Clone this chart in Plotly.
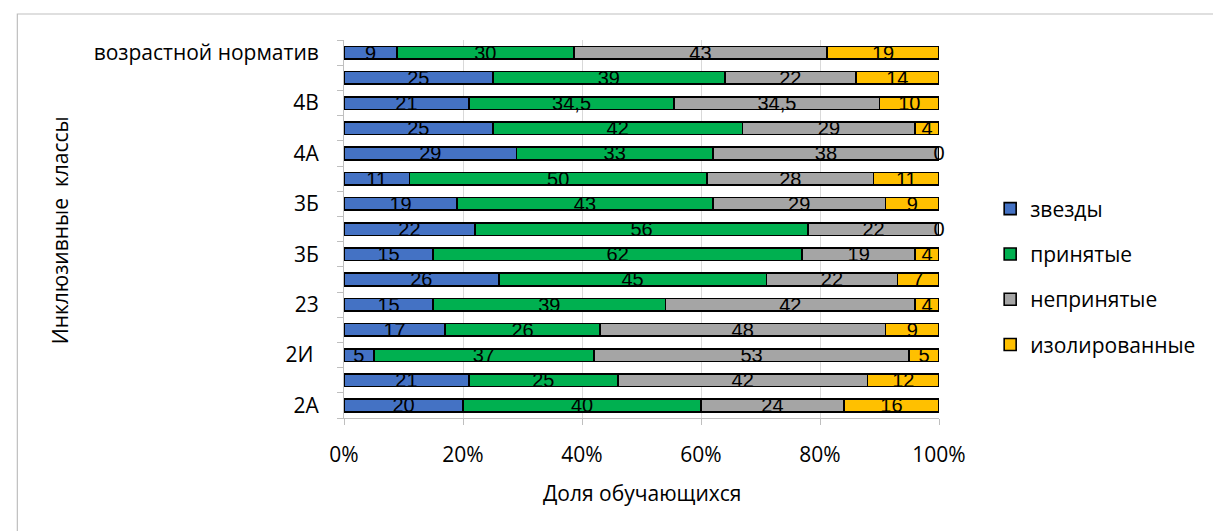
import numpy as np
import plotly.graph_objects as go

categories = ["2А", "", "2И\u00a0", "", "23", "", "3Б", "", "3Б", "", "4А", "", "4В", "", "возрастной норматив"]
series_names = ["звезды", "принятые", "непринятые", "изолированные"]
stars = [20, 21, 5, 17, 15, 26, 15, 22, 19, 11, 29, 25, 21, 25, 9]
accepted = [40, 25, 37, 26, 39, 45, 62, 56, 43, 50, 33, 42, 34.5, 39, 30]
rejected = [24, 42, 53, 48, 42, 22, 19, 22, 29, 28, 38, 29, 34.5, 22, 43]
isolated = [16, 12, 5, 9, 4, 7, 4, 0, 9, 11, 0, 4, 10, 14, 19]
x_ticks = [0, 20, 40, 60, 80, 100]
x_ticktext = ["0%", "20%", "40%", "60%", "80%", "100%"]

colors = ["#4472C4", "#00B050", "#A5A5A5", "#FFC000"]
FONT = "Open Sans"
LABEL_FONT = "Liberation Sans"
FS = 21

data = np.array([stars, accepted, rejected, isolated], dtype=float)
totals = data.sum(axis=0)
norm = data / totals * 100
cum = np.cumsum(norm, axis=0)
mids = cum - norm / 2
ypos = np.arange(len(categories))

def fmt(v):
    s = ("%g" % v)
    return s.replace(".", ",")

fig = go.Figure()
for i, name in enumerate(series_names):
    fig.add_trace(go.Bar(
        y=ypos, x=norm[i], name=name, orientation="h",
        marker=dict(color=colors[i], line=dict(color="black", width=1.6)),
        legendgroup=name, hoverinfo="skip",
    ))
for i, name in enumerate(series_names):
    fig.add_trace(go.Scatter(
        y=ypos - 0.08, x=mids[i], mode="text",
        text=[fmt(v) for v in data[i]],
        textfont=dict(family=LABEL_FONT, size=20, color="black"),
        showlegend=False, hoverinfo="skip", cliponaxis=False,
    ))

fig.update_layout(
    width=1221, height=531,
    margin=dict(l=336, r=290, t=32, b=121),
    barmode="stack", bargap=0.5,
    plot_bgcolor="white", paper_bgcolor="white",
    font=dict(family=FONT, size=FS, color="black"),
    showlegend=True,
    legend=dict(x=1.086, y=0.373, xanchor="left", yanchor="middle",
                traceorder="grouped", tracegroupgap=15,
                font=dict(family=FONT, size=FS, color="black"),
                itemwidth=30),
    xaxis=dict(range=[0, 100], tickvals=x_ticks, ticktext=x_ticktext,
               showgrid=True, gridcolor="#D9D9D9", gridwidth=1,
               showline=True, linecolor="#BFBFBF", linewidth=1,
               ticks="outside", ticklen=6, tickcolor="#BFBFBF",
               ticklabelstandoff=12, zeroline=False,
               tickfont=dict(family=FONT, size=FS)),
    yaxis=dict(range=[-0.5, len(categories) - 0.5], tickvals=list(ypos), ticktext=categories,
               showgrid=False, showline=True, linecolor="#BFBFBF", linewidth=1,
               ticks="", ticklabelstandoff=20, zeroline=False,
               minor=dict(tick0=-0.5, dtick=1, ticks="outside", ticklen=6,
                          tickcolor="#BFBFBF", showgrid=False),
               tickfont=dict(family=FONT, size=FS)),
    annotations=[
        dict(text="Инклюзивные  классы", textangle=-90, xref="paper", yref="paper",
             x=-0.477, y=0.497, xanchor="center", yanchor="middle", showarrow=False,
             font=dict(family=FONT, size=FS)),
        dict(text="Доля обучающихся", xref="paper", yref="paper",
             x=0.5, y=-0.198, xanchor="center", yanchor="middle", showarrow=False,
             font=dict(family=FONT, size=FS)),
    ],
    shapes=[
        dict(type="rect", xref="paper", yref="paper", x0=-0.549, x1=2.0, y0=-2.0, y1=1.0688,
             line=dict(color="#BFBFBF", width=1.2), fillcolor="rgba(0,0,0,0)", layer="below"),
    ],
)

fig.write_html("out.html")
